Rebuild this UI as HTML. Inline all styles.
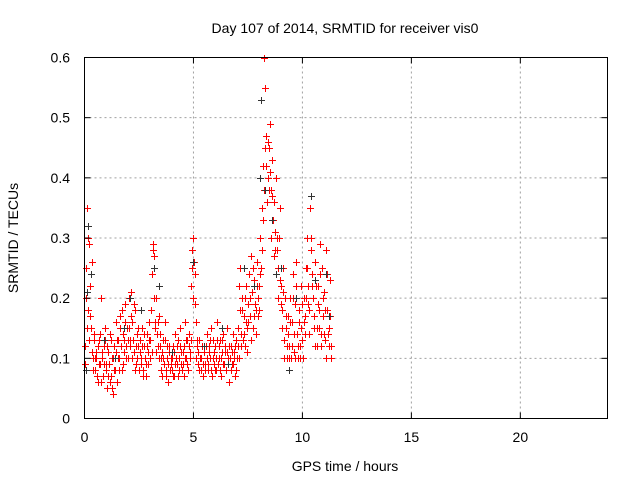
<!DOCTYPE html>
<html><head><meta charset="utf-8"><style>
body{margin:0;background:#fff;}
svg{display:block;font-family:"Liberation Sans",sans-serif;}
</style></head><body>
<svg id="chart" width="640" height="480">
<g id="grid"></g>
<g id="marks"></g>
<rect x="84.5" y="57.5" width="523" height="361" fill="none" stroke="#000"/>
<g id="ticks"></g>
<text x="345" y="33" text-anchor="middle" font-size="14">Day 107 of 2014, SRMTID for receiver vis0</text>
<text x="345" y="471" text-anchor="middle" font-size="14">GPS time / hours</text>
<text x="18" y="238" text-anchor="middle" font-size="14" transform="rotate(-90 18 238)">SRMTID / TECUs</text>
</svg>
<script>
const xTicks=[0,5,10,15,20];
const yTicks=[0,0.1,0.2,0.3,0.4,0.5,0.6];
const yTickLabels=["0","0.1","0.2","0.3","0.4","0.5","0.6"];
const redValuesA=[
.12,.25,.35,.18,.29,.22,.15,.26,.1,.14,
.08,.11,.06,.13,.09,.2,.1,.07,.12,.15,
.09,.05,.11,.14,.07,.1,.04,.12,.08,.16,
.06,.13,.1,.17,.08,.14,.11,.19,.12,.15,
.1,.2,.13,.21,.16,.11,.18,.09,.14,.12,
.08,.13,.1,.15,.07,.12,.09,.14,.11,.16,
.1,.18,.24,.29,.27,.15,.2,.12,.17,.14,
.1,.07,.13,.09,.16,.08,.12,.06,.11,.1,
.08,.12,.07,.14,.1,.09,.13,.08,.15,.11,
.09,.12,.16,.1,.13,.08,.14,.11,.22,.28,
.3,.24,.16,.12,.09,.13,.1,.08,.12,.07,
.11,.09,.14,.08,.12,.1,.15,.07,.13,.09,
.12,.08,.16,.1,.13,.07,.11,.14,.09,.12,
.08,.15,.1,.06,.12,.09,.14,.11,.07,.13,
.1,.15,.22,.25,.12,.18,.14,.2,.16,.11,
.19,.24,.17,.27,.21,.15,.23,.18,.26,.2,
.22,.3,.25,.35,.42,.6,.55,.47,.4,.45,
.49,.38,.43,.33,.36,.28,.4,.3,.25,.35,
.22,.18,.25,.13,.2,.15,.1,.17,.12,.2,
.16,.24,.11,.19,.26,.14,.1,.18,.12,.22,
.13,.2,.17,.25,.3,.22,.18,.35,.28,.24,
.2,.15,.26,.12,.22,.18,.29,.14,.25,.17,
.21,.13,.28,.18,.15,.23,.12];
const redValuesB=[
.09,.2,.15,.3,.13,.17,.11,.08,.13,.1,
.1,.07,.12,.09,.14,.06,.11,.09,.13,.08,
.12,.07,.09,.06,.13,.05,.1,.08,.11,.13,
.1,.08,.15,.12,.18,.09,.13,.16,.1,.13,
.15,.12,.17,.1,.13,.19,.08,.12,.1,.15,
.11,.09,.12,.08,.14,.1,.07,.12,.09,.13,
.13,.11,.28,.2,.16,.11,.14,.16,.1,.12,
.08,.11,.1,.13,.07,.1,.09,.12,.08,.09,
.1,.07,.11,.09,.12,.07,.1,.12,.09,.08,
.11,.07,.1,.13,.09,.12,.1,.13,.25,.2,
.26,.19,.1,.13,.11,.08,.1,.12,.09,.11,
.08,.12,.1,.09,.11,.13,.08,.1,.11,.08,
.1,.13,.09,.12,.08,.1,.13,.09,.11,.08,
.11,.09,.12,.1,.08,.11,.09,.1,.12,.08,
.12,.1,.18,.14,.2,.13,.17,.12,.22,.15,
.16,.2,.13,.21,.25,.17,.19,.14,.22,.17,
.18,.24,.28,.33,.38,.45,.42,.36,.46,.38,
.41,.3,.37,.27,.31,.24,.28,.2,.3,.23,
.19,.15,.21,.1,.17,.12,.14,.1,.16,.1,
.12,.2,.14,.1,.22,.12,.16,.1,.15,.19,
.1,.16,.14,.2,.25,.19,.14,.3,.22,.2,
.17,.12,.22,.15,.19,.15,.24,.12,.2,.14,
.18,.1,.24,.14,.12,.17,.1];
const redStartHour=0, redStepHours=0.05, redOffsetB=0.025;
const blackTimes=[0.05,0.1,0.15,0.3,0.9,1.4,1.8,2.1,2.6,3.2,3.4,4.0,5.0,5.5,6.3,6.6,7.3,7.8,8.05,8.1,8.3,8.6,8.8,9.0,9.4,9.7,10.4,10.6,11.1,11.2];
const blackValues=[.08,.21,.32,.24,.13,.1,.15,.2,.18,.25,.22,.11,.26,.12,.15,.09,.25,.22,.4,.53,.38,.33,.24,.25,.08,.2,.37,.23,.24,.17];

const X0=84.5,X1=607.5,Y0=418.5,Y1=57.5;
const xs=v=>X0+(v/24)*(X1-X0);
const ys=v=>Y0-(v/0.6)*(Y0-Y1);
const NS="http://www.w3.org/2000/svg";
const grid=document.getElementById('grid'),ticks=document.getElementById('ticks'),marks=document.getElementById('marks');
function mk(tag,attrs,parent){const e=document.createElementNS(NS,tag);for(const k in attrs)e.setAttribute(k,attrs[k]);parent.appendChild(e);return e;}
xTicks.forEach(t=>{const x=xs(t);
 if(t>0){const g=mk('line',{x1:x,x2:x,y1:Y0,y2:Y1,stroke:'#a0a0a0','stroke-dasharray':'2,3'},grid);
 
 }
 const l=mk('line',{x1:x,x2:x,y1:Y0,y2:Y0-6,stroke:'#000'},ticks);
 
 
 const l2=mk('line',{x1:x,x2:x,y1:Y1,y2:Y1+6,stroke:'#000'},ticks);
 
 
 const tx=mk('text',{x:x,y:442,'text-anchor':'middle','font-size':'14'},ticks);tx.textContent=String(t);
 
 
});
yTicks.forEach((t,i)=>{const y=ys(t);
 if(t>0&&t<0.6){const g=mk('line',{x1:X0,x2:X1,y1:y,y2:y,stroke:'#a0a0a0','stroke-dasharray':'2,3'},grid);
 
 }
 const l=mk('line',{x1:X0,x2:X0+6,y1:y,y2:y,stroke:'#000'},ticks);
 
 
 const l2=mk('line',{x1:X1,x2:X1-6,y1:y,y2:y,stroke:'#000'},ticks);
 
 
 const tx=mk('text',{x:70,y:y+5,'text-anchor':'end','font-size':'14'},ticks);tx.textContent=yTickLabels[i];
 
 
});
function plus(t,v,color,name){const x=Math.round(xs(t))+0.5,y=Math.round(ys(v))+0.5;
 const p=mk('path',{d:`M${x-3.5} ${y}H${x+3.5}M${x} ${y-3.5}V${y+3.5}`,stroke:color,'stroke-width':'1',fill:'none'},marks);
 
 }
redValuesA.forEach((v,i)=>plus(redStartHour+i*redStepHours,v,'#ff0000','red-point'));
redValuesB.forEach((v,i)=>plus(redStartHour+redOffsetB+i*redStepHours,v,'#ff0000','red-point'));
blackTimes.forEach((t,i)=>plus(t,blackValues[i],'#333','black-point'));
</script>
</body></html>
